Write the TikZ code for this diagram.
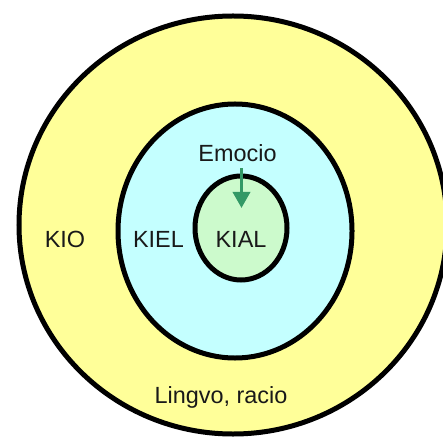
\documentclass[tikz,border=0pt]{standalone}
\usepackage{fontspec}
\setmainfont{Liberation Sans}
\usetikzlibrary{shapes.geometric,arrows.meta}
\definecolor{outerY}{HTML}{FFFF99}
\definecolor{midC}{HTML}{C4FFFF}
\definecolor{innerG}{HTML}{CCFACC}
\definecolor{arrG}{HTML}{339966}
\begin{document}
\begin{tikzpicture}[x=1bp,y=-1bp,
  ring/.style={ellipse,draw=black,line width=5bp,inner sep=0pt,outer sep=0pt},
  lbl/.style={anchor=base,inner sep=0pt,text=black!90,font=\fontsize{23.5}{27}\selectfont},
  arr/.style={draw=arrG,line width=3.5bp,-{Triangle[width=17bp,length=16bp]}}]
\useasboundingbox (0,0) rectangle (443,439);
\fill[white] (0,0) rectangle (443,439);
\node[ring,fill=outerY,minimum width=428bp,minimum height=418bp] (outer) at (233,225) {};
\node[ring,fill=midC,minimum width=234bp,minimum height=254bp] (mid) at (235,231) {};
\node[ring,fill=innerG,minimum width=92bp,minimum height=104bp] (inner) at (241,228) {};
\node[lbl] (kio) at (65,247) {KIO};
\node[lbl] (kiel) at (158.5,247) {KIEL};
\node[lbl] (kial) at (241,247) {KIAL};
\node[lbl] (emocio) at (237.5,162) {Emocio};
\node[lbl] (lingvo) at (221,403) {Lingvo, racio};
\coordinate (tip) at (241.5,208);
\draw[arr] ([yshift=-6bp]emocio.south -| tip) -- (tip);
\end{tikzpicture}
\end{document}
